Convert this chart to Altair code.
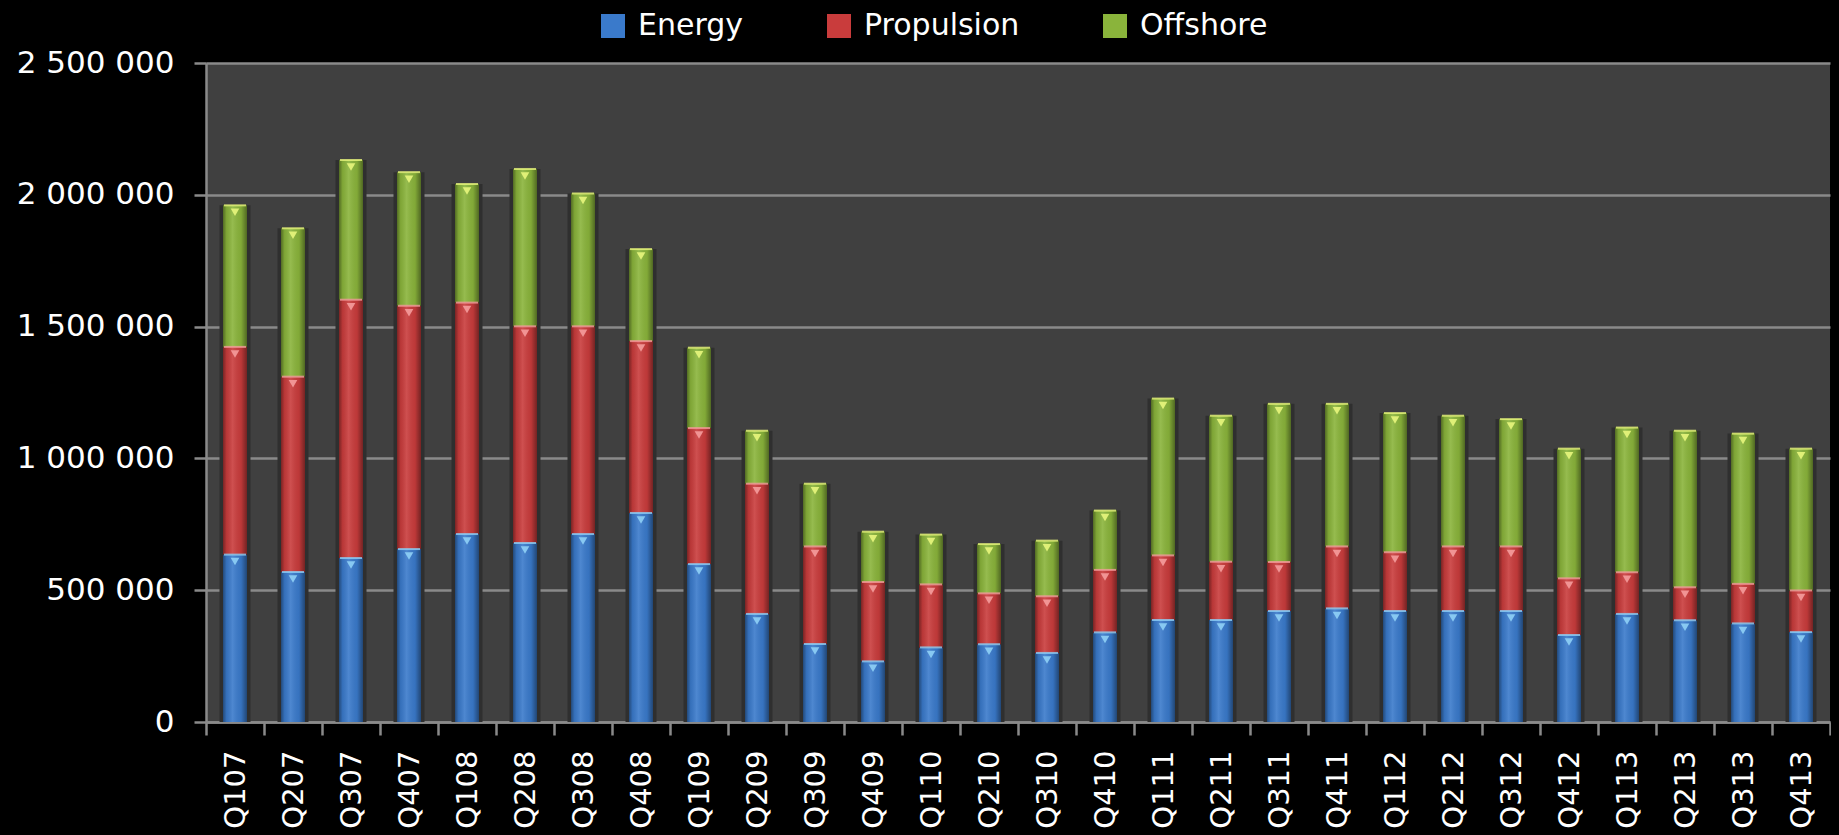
import altair as alt
import pandas as pd

# ---- data (values in units) ----
quarters = ["Q107", "Q207", "Q307", "Q407", "Q108", "Q208", "Q308", "Q408",
            "Q109", "Q209", "Q309", "Q409", "Q110", "Q210", "Q310", "Q410",
            "Q111", "Q211", "Q311", "Q411", "Q112", "Q212", "Q312", "Q412",
            "Q113", "Q213", "Q313", "Q413"]

energy = [635000, 569000, 622000, 656000, 713000, 679000, 713000, 793000,
          599000, 410000, 296000, 230000, 283000, 295000, 262000, 340000,
          387000, 387000, 421000, 431000, 421000, 421000, 421000, 330000,
          410000, 386000, 374000, 341000]

propulsion = [788000, 741000, 980000, 923000, 878000, 822000, 788000, 652000,
              516000, 494000, 370000, 301000, 239000, 193000, 215000, 237000,
              245000, 221000, 186000, 235000, 223000, 245000, 245000, 215000,
              158000, 125000, 150000, 158000]

offshore = [537000, 563000, 530000, 507000, 450000, 597000, 504000, 349000,
            305000, 201000, 238000, 191000, 189000, 187000, 211000, 225000,
            595000, 554000, 600000, 541000, 528000, 496000, 483000, 492000,
            549000, 594000, 570000, 538000]

series = ["Energy", "Propulsion", "Offshore"]
colors = ["#3a7acb", "#c93c3c", "#8ab43b"]
highlights = ["#8fd0f6", "#f59c9c", "#e8f67c"]
y_ticks = [0, 500000, 1000000, 1500000, 2000000, 2500000]

rows = []
for i, q in enumerate(quarters):
    for k, (name, vals) in enumerate(zip(series, [energy, propulsion, offshore])):
        rows.append({"quarter": q, "series": name, "value": vals[i], "order": k})
df = pd.DataFrame(rows)

# black page behind the chart (the 8px body margin)
try:
    import altair.utils.html as _ah
    _std = _ah.TEMPLATES["standard"]

    class _BlackPage:
        def render(self, **kw):
            html = _std.render(**kw)
            return html.replace("<head>", "<head>\n<style>html,body{background:#000;}</style>", 1)

    _ah.TEMPLATES["standard"] = _BlackPage()
except Exception:
    pass

FONT = "DejaVu Sans"
GRID = "#8a8a8a"

x_axis = alt.Axis(labelAngle=270, labelFontSize=29, labelFont=FONT, labelColor="white",
                  labelPadding=15, tickBand="extent", tickSize=13, tickColor=GRID,
                  tickWidth=2.5, domainColor=GRID, domainWidth=2.5, grid=False)
y_axis = alt.Axis(values=y_ticks,
                  labelExpr="replace(format(datum.value, ','), regexp(',', 'g'), ' ')",
                  labelFontSize=31, labelFont=FONT, labelColor="white", labelPadding=20,
                  tickSize=12, tickColor=GRID, tickWidth=2.5, domainColor=GRID,
                  domainWidth=2.5, grid=True, gridColor=GRID, gridWidth=2.5)
x_scale = alt.Scale(paddingInner=0, paddingOuter=0)
y_scale = alt.Scale(domain=[0, 2500000], nice=False)

def X():
    return alt.X("quarter:N", sort=quarters, title=None, scale=x_scale, axis=x_axis)

base = alt.Chart(df)

# soft dark glow behind each column
shadow = base.transform_aggregate(
    total="sum(value)", groupby=["quarter"]
).mark_bar(size=31, color="#2f2f2f").encode(
    x=X(),
    y=alt.Y("total:Q", title=None, scale=y_scale, axis=y_axis),
)

bars = base.mark_bar(size=24).encode(
    x=X(),
    y=alt.Y("value:Q", stack="zero", title=None, scale=y_scale, axis=y_axis),
    color=alt.Color(
        "series:N", sort=series, scale=alt.Scale(domain=series, range=colors),
        legend=alt.Legend(orient="none", legendX=392, legendY=-52, direction="horizontal",
                          title=None, symbolType="square", symbolSize=576,
                          symbolStrokeWidth=0, labelFontSize=30, labelFont=FONT,
                          labelColor="white", labelOffset=10, columnPadding=80),
    ),
    order=alt.Order("order:Q", sort="ascending"),
)

# cylinder shading across each column
shade = base.transform_aggregate(
    total="sum(value)", groupby=["quarter"]
).mark_bar(
    size=24,
    color=alt.LinearGradient(
        gradient="linear", x1=0, x2=1, y1=0, y2=0,
        stops=[
            alt.GradientStop(color="rgba(0,0,0,0.40)", offset=0),
            alt.GradientStop(color="rgba(0,0,0,0.08)", offset=0.15),
            alt.GradientStop(color="rgba(255,255,255,0.10)", offset=0.4),
            alt.GradientStop(color="rgba(0,0,0,0.06)", offset=0.75),
            alt.GradientStop(color="rgba(0,0,0,0.42)", offset=1),
        ],
    ),
).encode(
    x=X(),
    y=alt.Y("total:Q", title=None, scale=y_scale, axis=y_axis),
)

stacked = base.transform_window(
    top="sum(value)", groupby=["quarter"], sort=[alt.SortField("order")], frame=[None, 0]
)

hl_scale = alt.Scale(domain=series, range=highlights)

top_line = stacked.mark_tick(size=22, thickness=2, opacity=0.8).encode(
    x=X(),
    y=alt.Y("top:Q", title=None, scale=y_scale, axis=y_axis),
    color=alt.Color("series:N", scale=hl_scale, legend=None),
)

top_mark = stacked.mark_point(shape="triangle-down", size=75, filled=True, opacity=0.9,
                              yOffset=7).encode(
    x=X(),
    y=alt.Y("top:Q", title=None, scale=y_scale, axis=y_axis),
    color=alt.Color("series:N", scale=hl_scale, legend=None),
)

chart = alt.layer(shadow, bars, shade, top_line, top_mark).resolve_scale(
    color="independent"
).properties(
    width=1624,
    height=659,
    autosize=alt.AutoSizeParams(type="none"),
    padding={"left": 198, "top": 55, "right": 1, "bottom": 112},
    background="#000000",
).configure_view(
    fill="#404040", stroke=None,
)

chart.save("out.html", embed_options={"renderer": "svg", "actions": False})
